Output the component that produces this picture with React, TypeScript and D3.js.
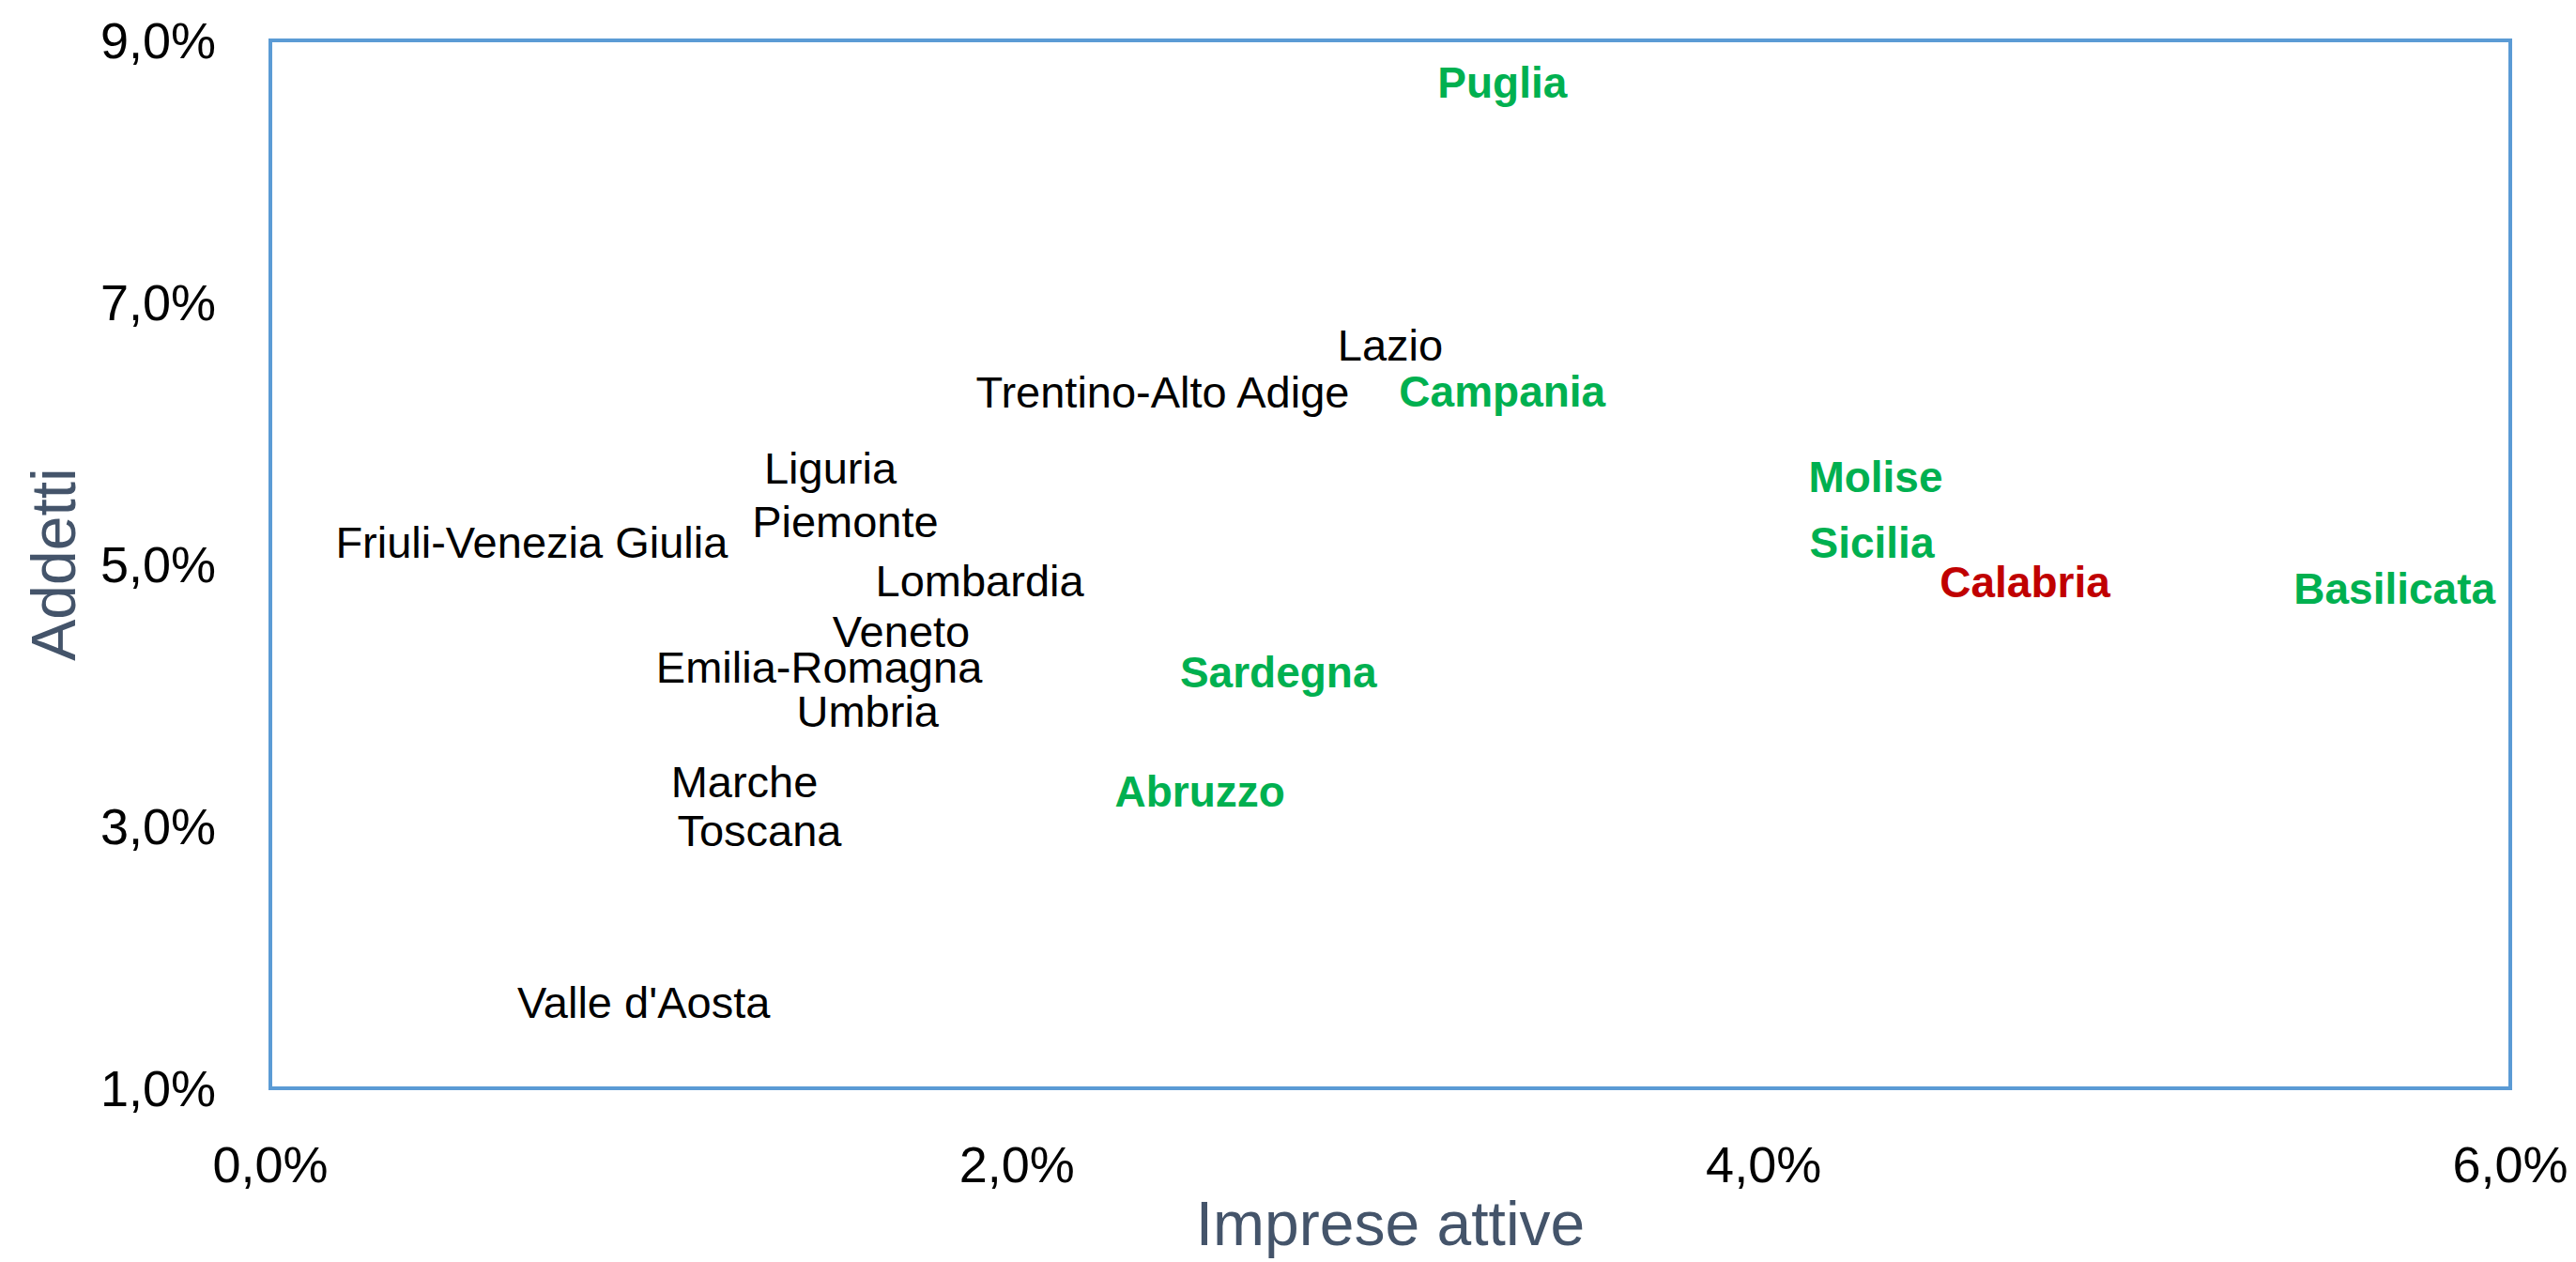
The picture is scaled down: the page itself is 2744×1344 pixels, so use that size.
import React from 'react';
import * as d3 from 'd3';

// regioni e valori (quota % su imprese attive e addetti)
const regioni: string[] = [
    'Puglia', 'Lazio', 'Trentino-Alto Adige', 'Campania', 'Molise',
    'Liguria', 'Piemonte', 'Friuli-Venezia Giulia', 'Sicilia', 'Calabria',
    'Basilicata', 'Lombardia', 'Veneto', 'Emilia-Romagna', 'Sardegna',
    'Umbria', 'Marche', 'Abruzzo', 'Toscana', "Valle d'Aosta",
];
const impreseAttive: number[] = [
    3.30, 3.00, 2.39, 3.30, 4.30,
    1.50, 1.54, 0.70, 4.29, 4.70,
    5.69, 1.90, 1.69, 1.47, 2.70,
    1.60, 1.27, 2.49, 1.31, 1.00,
];
const addetti: number[] = [
    8.68, 6.68, 6.32, 6.32, 5.67,
    5.74, 5.33, 5.17, 5.17, 4.87,
    4.82, 4.88, 4.49, 4.22, 4.18,
    3.88, 3.34, 3.27, 2.97, 1.66,
];
// gruppo di evidenziazione: 0 = normale, 1 = verde, 2 = rosso
const gruppo: number[] = [
    1, 0, 0, 1, 1,
    0, 0, 0, 1, 2,
    1, 0, 0, 0, 1,
    0, 0, 1, 0, 0,
];
const xTicks: number[] = [0, 2, 4, 6];
const yTicks: number[] = [1, 3, 5, 7, 9];

const W = 2744;
const H = 1344;
const m = { left: 288, right: 2674, top: 43, bottom: 1159 };
const font = '"Liberation Sans", Arial, sans-serif';

const coloreGruppo = ['#000000', '#00B050', '#C00000'];
const fmt = (v: number) => d3.format('.1f')(v).replace('.', ',') + '%';

export default function App() {
    const x = d3.scaleLinear().domain([0, 6]).range([m.left, m.right]);
    const y = d3.scaleLinear().domain([1, 9]).range([m.bottom, m.top]);

    return (
        <svg width={W} height={H} style={{ position: 'absolute', left: 0, top: 0, background: '#fff' }}
            fontFamily={font}>
            <rect x={m.left} y={m.top} width={m.right - m.left} height={m.bottom - m.top}
                fill="none" stroke="#5B9BD5" strokeWidth={4} />

            {yTicks.map(t => (
                <text key={'y' + t} x={230} y={y(t)} dy="0.36em" textAnchor="end"
                    fontSize={54} fill="#000">{fmt(t)}</text>
            ))}
            {xTicks.map(t => (
                <text key={'x' + t} x={x(t)} y={1259} textAnchor="middle"
                    fontSize={54} fill="#000">{fmt(t)}</text>
            ))}

            {regioni.map((r, i) => (
                <text key={r} x={x(impreseAttive[i])} y={y(addetti[i])} dy="0.36em"
                    textAnchor="middle" fontSize={gruppo[i] ? 46 : 47}
                    fontWeight={gruppo[i] ? 'bold' : 'normal'}
                    fill={coloreGruppo[gruppo[i]]}>{r}</text>
            ))}

            <text x={(m.left + m.right) / 2} y={1326} textAnchor="middle"
                fontSize={66} fill="#44546A">Imprese attive</text>
            <text transform={`translate(80, ${(m.top + m.bottom) / 2}) rotate(-90)`} textAnchor="middle"
                fontSize={66} fill="#44546A">Addetti</text>
        </svg>
    );
}
